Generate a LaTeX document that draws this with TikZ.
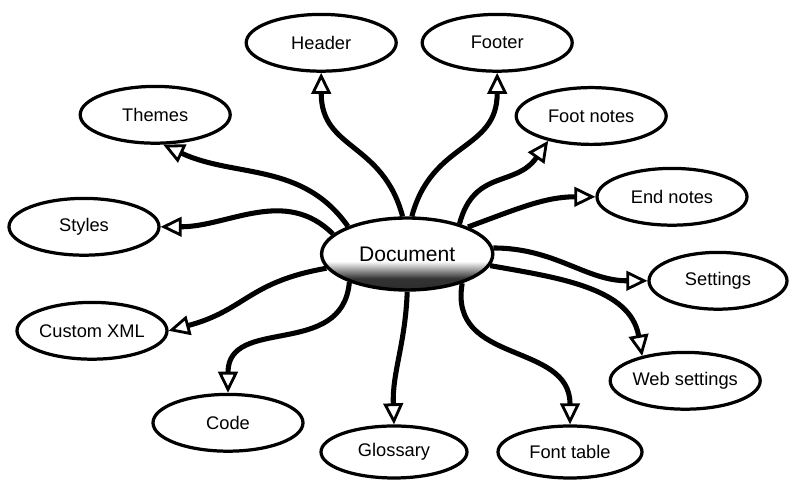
\documentclass[tikz,border=0pt]{standalone}
\usepackage{fontspec}
\setmainfont{Liberation Sans}
\usetikzlibrary{arrows.meta,shapes.geometric}

\pgfdeclareverticalshading{docshade}{100bp}{color(0bp)=(black!90); color(33bp)=(black!80); color(45bp)=(white); color(100bp)=(white)}

\begin{document}
\begin{tikzpicture}[
    hub/.style={ellipse, draw, line width=2.4pt, shade, shading=docshade, minimum width=4.28cm, minimum height=1.8cm, inner sep=0pt, font=\fontsize{15}{17}\selectfont},
    part/.style={ellipse, draw, line width=2.3pt, fill=white, minimum width=3.75cm, minimum height=1.42cm, inner sep=0pt, font=\fontsize{13}{15}\selectfont},
    link/.style={-{Triangle[open, length=15pt, width=14pt, line width=2pt]}, line width=3.6pt}
]
\useasboundingbox (0,0) rectangle (19.775,12.05);

% Centre
\node[hub] (doc) at (10.18,5.70) {Document};

% Top row
\node[part] (header) at (8.03,10.98) {Header};
\node[part] (footer) at (12.43,10.98) {Footer};

% Left side
\node[part] (themes) at (3.88,9.18) {Themes};
\node[part] (styles) at (2.10,6.38) {Styles};
\node[part] (customxml) at (2.30,3.78) {Custom XML};
\node[part] (code) at (5.70,1.48) {Code};

% Right side
\node[part] (footnotes) at (14.78,9.15) {Foot notes};
\node[part] (endnotes) at (16.80,7.13) {End notes};
\node[part, minimum width=3.45cm] (settings) at (17.95,5.03) {Settings};
\node[part] (websettings) at (17.13,2.53) {Web settings};

% Bottom row
\node[part, minimum width=3.65cm, minimum height=1.3cm] (glossary) at (9.85,0.75) {Glossary};
\node[part, minimum width=3.6cm, minimum height=1.3cm] (fonttable) at (14.25,0.75) {Font table};

% Edges
\draw[link] (doc.97) to[out=105, in=-90, looseness=1.2] (header.south);
\draw[link] (doc.83) to[out=75, in=-90, looseness=1.2] (footer.south);
\draw[link] (doc.155) to[out=125, in=-25] (themes.-75);
\draw[link] (doc.165) to[out=135, in=0] (styles.east);
\draw[link] (doc.190) to[out=190, in=15, looseness=1.2] (customxml.east);
\draw[link] (doc.206) to[out=-95, in=90, looseness=1.2] (code.north);
\draw[link] (doc.-90) to[out=-92, in=92] (glossary.north);
\draw[link] (doc.-28) to[out=-100, in=90, looseness=1.2] (fonttable.north);
\draw[link] (doc.-8) to[out=-10, in=100] (websettings.150);
\draw[link] (doc.4) to[out=0, in=180] (settings.west);
\draw[link] (doc.24) to[out=20, in=180] (endnotes.west);
\draw[link] (doc.30) to[out=75, in=235, looseness=1.2] (footnotes.210);
\end{tikzpicture}
\end{document}
